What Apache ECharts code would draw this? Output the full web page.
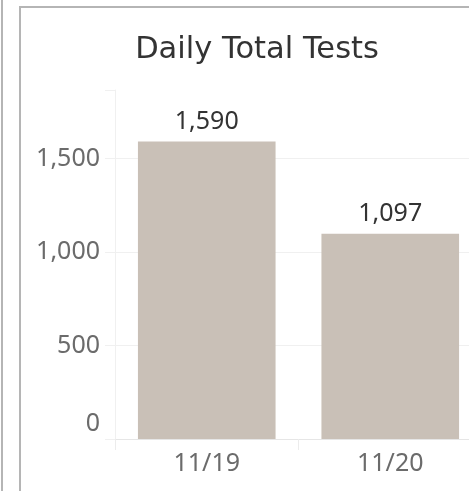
<!DOCTYPE html>
<html><head><meta charset="utf-8">
<script src="https://cdn.jsdelivr.net/npm/echarts@6/dist/echarts.min.js"></script>
<style>html,body{margin:0;padding:0;background:#fff;overflow:hidden;width:469px;height:491px}#c{width:500px;height:491px}</style>
</head><body><div id="c"></div>
<script>
var categories = ['11/19', '11/20'];
var totalTests = [1590, 1097];
var yTicks = [0, 500, 1000, 1500];
var titleText = 'Daily Total Tests';

var FONT = 'Noto Sans';
var chart = echarts.init(document.getElementById('c'), null, {renderer: 'canvas'});
chart.setOption({
  animation: false,
  backgroundColor: '#fff',
  title: {
    text: titleText, left: 252, top: 30, textAlign: 'center',
    textStyle: {fontFamily: 'DejaVu Sans', fontSize: 30.5, fontWeight: 'normal', color: '#333'}
  },
  graphic: [
    {type: 'rect', shape: {x: 1, y: 0, width: 2, height: 491}, style: {fill: '#b5b5b5'}, silent: true},
    {type: 'rect', shape: {x: 19, y: 6, width: 2, height: 485}, style: {fill: '#b5b5b5'}, silent: true},
    {type: 'rect', shape: {x: 19, y: 6, width: 481, height: 2}, style: {fill: '#b5b5b5'}, silent: true}
  ],
  grid: {left: 115, top: 90, width: 367, height: 349, containLabel: false},
  xAxis: {
    type: 'category', data: categories,
    axisLine: {show: true, lineStyle: {color: '#e6e6e6', width: 1}},
    axisTick: {show: true, length: 11, lineStyle: {color: '#ececec'}},
    axisLabel: {fontFamily: FONT, fontSize: 25, color: '#6b6b6b', margin: 12}
  },
  yAxis: {
    type: 'value', min: 0, max: 1866, interval: 500,
    axisLine: {show: true, lineStyle: {color: '#f0f0f0'}},
    axisTick: {show: true, length: 10, lineStyle: {color: '#f0f0f0'}},
    splitLine: {show: true, lineStyle: {color: ['#f0f0f0', '#f0f0f0', '#f0f0f0', '#f0f0f0', 'rgba(0,0,0,0)']}},
    axisLabel: {
      fontFamily: FONT, fontSize: 25, color: '#6b6b6b', margin: 15,
      formatter: function (v) {
        if (yTicks.indexOf(v) < 0) return '';
        var s = echarts.format.addCommas(v);
        return v === 0 ? '{z|' + s + '}' : s;
      },
      rich: {z: {fontFamily: FONT, fontSize: 25, color: '#6b6b6b', padding: [0, 0, 30, 0]}}
    }
  },
  series: [{
    type: 'bar', data: totalTests, barWidth: '75%',
    itemStyle: {color: '#c9c0b7'},
    label: {
      show: true, position: 'top', distance: 7,
      fontFamily: FONT, fontSize: 25, color: '#333',
      formatter: function (p) { return echarts.format.addCommas(p.value); }
    }
  }]
});
</script></body></html>
